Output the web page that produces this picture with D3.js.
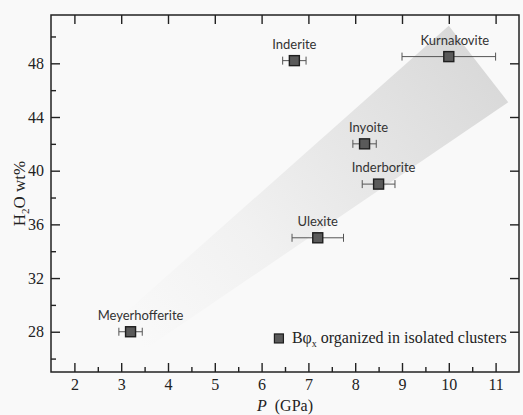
<!DOCTYPE html>
<html>
<head>
<meta charset="utf-8">
<script src="https://cdn.jsdelivr.net/npm/d3@7"></script>
<style>
  html, body { margin: 0; padding: 0; background: #f9f9f9; }
  svg { display: block; }
  .axes text { font-family: "Liberation Serif", "Times New Roman", serif; }
</style>
</head>
<body>
<svg id="chart" width="523" height="415"></svg>
<script>
// minerals with B-phi clusters, P in GPa, water content in wt%
const minerals = ["Meyerhofferite", "Ulexite", "Inderborite", "Inyoite", "Inderite", "Kurnakovite"];
const pressure = [3.2, 7.2, 8.5, 8.2, 6.7, 10.0];
const pressureErr = [0.25, 0.55, 0.35, 0.25, 0.25, 1.0];
const water = [28.0, 35.0, 39.0, 42.0, 48.2, 48.5];

// shaded trend band (P, wt%)
const bandP = [3.15, 10.0, 11.27, 3.47];
const bandW = [29.6, 50.8, 45.1, 26.6];

const xTicks = [2, 3, 4, 5, 6, 7, 8, 9, 10, 11];
const yTicks = [28, 32, 36, 40, 44, 48];

// small horizontal nudges of the point labels
const labelNudge = { Meyerhofferite: 10, Inyoite: 4, Inderborite: 5, Kurnakovite: 6 };

const svg = d3.select("#chart");
const margin = { top: 15, right: 4, bottom: 43, left: 51 },
    width = +svg.attr("width") - margin.left - margin.right,
    height = +svg.attr("height") - margin.top - margin.bottom,
    g = svg.append("g").attr("transform", "translate(" + margin.left + "," + margin.top + ")");

const x = d3.scaleLinear().domain([1.5, 11.5]).range([0, width]);
const y = d3.scaleLinear().domain([25, 51.6]).range([height, 0]);

const serif = "Liberation Serif, Times New Roman, serif";
const sans = "Lato, Open Sans, sans-serif";

// band gradient
const defs = svg.append("defs");
const grad = defs.append("linearGradient")
    .attr("id", "bandGrad")
    .attr("gradientUnits", "userSpaceOnUse")
    .attr("x1", x(3.3)).attr("y1", y(27.5))
    .attr("x2", x(10.6)).attr("y2", y(48.5));
grad.append("stop").attr("offset", 0).attr("stop-color", "#f9f9f9");
grad.append("stop").attr("offset", 0.35).attr("stop-color", "#f1f1f1");
grad.append("stop").attr("offset", 1).attr("stop-color", "#d9d9d9");

const band = bandP.map((p, i) => [x(p), y(bandW[i])]);
g.append("path")
    .attr("d", d3.line()(band) + "Z")
    .attr("fill", "url(#bandGrad)");

// axes: major ticks inward, minor on bottom/left only
const frame = g.append("g").attr("class", "axes");
function styleAxis(sel) {
    sel.attr("font-family", serif).attr("font-size", 16);
    sel.select(".domain").remove();
    sel.selectAll(".tick line").attr("stroke", "#222").attr("stroke-width", 1.4);
    sel.selectAll(".tick text").attr("fill", "#222").style("font-family", serif);
}

frame.append("g")
    .attr("transform", "translate(0," + height + ")")
    .call(d3.axisBottom(x).tickValues(xTicks).tickSize(-9).tickPadding(7).tickFormat(d3.format("d")))
    .call(styleAxis);
frame.append("g")
    .attr("transform", "translate(0," + height + ")")
    .call(d3.axisBottom(x).tickValues(xTicks.map(t => t + 0.5).filter(t => t < 11.5)).tickSize(-5).tickFormat(""))
    .call(styleAxis);
frame.append("g")
    .call(d3.axisTop(x).tickValues(xTicks).tickSize(-9).tickFormat(""))
    .call(styleAxis);

frame.append("g")
    .call(d3.axisLeft(y).tickValues(yTicks).tickSize(-9).tickPadding(7).tickFormat(d3.format("d")))
    .call(styleAxis);
frame.append("g")
    .call(d3.axisLeft(y).tickValues([26].concat(yTicks.map(t => t + 2))).tickSize(-5).tickFormat(""))
    .call(styleAxis);
frame.append("g")
    .attr("transform", "translate(" + width + ",0)")
    .call(d3.axisRight(y).tickValues(yTicks).tickSize(-9).tickFormat(""))
    .call(styleAxis);

g.append("rect")
    .attr("width", width).attr("height", height)
    .attr("fill", "none").attr("stroke", "#222").attr("stroke-width", 1.5);

// error bars
const pts = minerals.map((name, i) => ({ name, p: pressure[i], e: pressureErr[i], w: water[i] }));
const errG = g.append("g").attr("stroke", "#555").attr("stroke-width", 1);
const eb = errG.selectAll("g").data(pts).enter().append("g");
eb.append("line")
    .attr("x1", d => x(d.p - d.e)).attr("x2", d => x(d.p + d.e))
    .attr("y1", d => y(d.w)).attr("y2", d => y(d.w));
eb.append("line")
    .attr("x1", d => x(d.p - d.e)).attr("x2", d => x(d.p - d.e))
    .attr("y1", d => y(d.w) - 4).attr("y2", d => y(d.w) + 4);
eb.append("line")
    .attr("x1", d => x(d.p + d.e)).attr("x2", d => x(d.p + d.e))
    .attr("y1", d => y(d.w) - 4).attr("y2", d => y(d.w) + 4);

// markers
g.append("g").selectAll("rect").data(pts).enter().append("rect")
    .attr("x", d => x(d.p) - 5).attr("y", d => y(d.w) - 5)
    .attr("width", 10).attr("height", 10)
    .attr("fill", "#5a5a5a").attr("stroke", "#1e1e1e").attr("stroke-width", 1.4);

// labels
g.append("g").selectAll("text").data(pts).enter().append("text")
    .attr("x", d => x(d.p) + (labelNudge[d.name] || 0))
    .attr("y", d => y(d.w) - 12)
    .attr("text-anchor", "middle")
    .attr("font-family", sans).attr("font-size", 13).attr("fill", "#333")
    .text(d => d.name);

// legend
const leg = g.append("g").attr("transform", "translate(" + (x(6.37)) + "," + (y(27.5)) + ")");
leg.append("rect")
    .attr("x", -4.5).attr("y", -4.5).attr("width", 9).attr("height", 9)
    .attr("fill", "#5a5a5a").attr("stroke", "#1e1e1e").attr("stroke-width", 1.2);
const lt = leg.append("text")
    .attr("x", 13).attr("y", 5)
    .attr("font-family", serif).attr("font-size", 16).attr("fill", "#222");
lt.append("tspan").text("B\u03c6");
lt.append("tspan").attr("font-size", 10).attr("dy", 4).text("x");
lt.append("tspan").attr("dy", -4).text(" organized in isolated clusters");

// axis titles
const xt = svg.append("text")
    .attr("x", margin.left + width / 2).attr("y", 411)
    .attr("text-anchor", "middle")
    .attr("font-family", serif).attr("font-size", 16).attr("fill", "#222");
xt.append("tspan").attr("font-style", "italic").text("P");
xt.append("tspan").text("\u00a0 (GPa)");

const yt = svg.append("text")
    .attr("transform", "translate(25," + (margin.top + height / 2) + ") rotate(-90)")
    .attr("text-anchor", "middle")
    .attr("font-family", serif).attr("font-size", 17).attr("fill", "#222");
yt.append("tspan").text("H");
yt.append("tspan").attr("font-size", 11).attr("dy", 4).text("2");
yt.append("tspan").attr("dy", -4).text("O wt%");
</script>
</body>
</html>
